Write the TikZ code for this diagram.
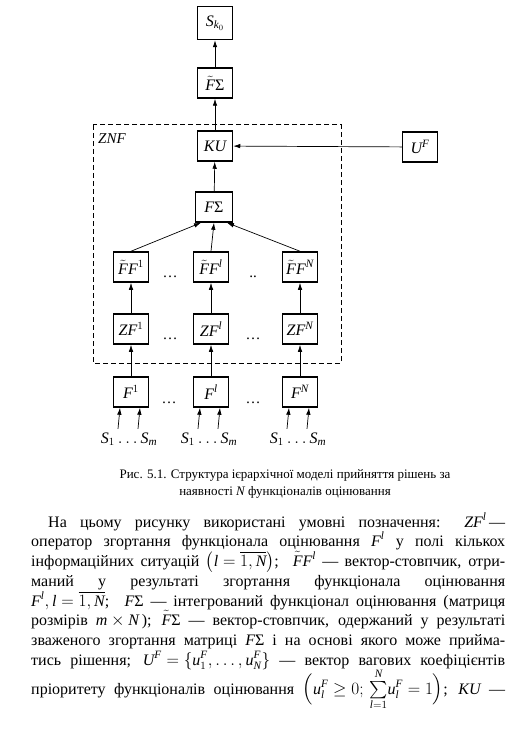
\documentclass[tikz,border=0pt]{standalone}
\usepackage{amsmath}
\usepackage{fontspec}
\setmainfont{Liberation Serif}
\newfontfamily\libser{Liberation Serif}[NFSSFamily=libser]
\DeclareSymbolFont{lettersx}{TU}{libser}{m}{it}
\DeclareSymbolFont{uprx}{TU}{libser}{m}{n}
\DeclareMathSymbol{F}{\mathalpha}{lettersx}{`F}
\DeclareMathSymbol{Z}{\mathalpha}{lettersx}{`Z}
\DeclareMathSymbol{N}{\mathalpha}{lettersx}{`N}
\DeclareMathSymbol{K}{\mathalpha}{lettersx}{`K}
\DeclareMathSymbol{U}{\mathalpha}{lettersx}{`U}
\DeclareMathSymbol{S}{\mathalpha}{lettersx}{`S}
\DeclareMathSymbol{l}{\mathalpha}{lettersx}{`l}
\DeclareMathSymbol{m}{\mathalpha}{lettersx}{`m}
\DeclareMathSymbol{u}{\mathalpha}{lettersx}{`u}
\DeclareMathSymbol{k}{\mathalpha}{lettersx}{`k}
\DeclareMathSymbol{0}{\mathord}{uprx}{`0}
\DeclareMathSymbol{1}{\mathord}{uprx}{`1}
\newcommand{\Sg}{\mathord{\text{\upshape Σ}}}
\thickmuskip=5mu \medmuskip=4mu \thinmuskip=3mu
\usetikzlibrary{arrows.meta}

\begin{document}
\begin{tikzpicture}[x=1pt,y=-1pt,
  blk/.style={draw, line width=1.5pt, minimum width=35pt, minimum height=30pt, inner sep=1pt, font=\fontsize{16}{18}\selectfont},
  arr/.style={-{Latex[length=7pt,width=4.5pt]}, line width=0.7pt},
  dotlbl/.style={anchor=base, inner sep=0pt, font=\fontsize{15}{18}\selectfont},
  txtline/.style={anchor=base west, inner sep=0pt, font=\fontsize{16}{18}\selectfont},
  capline/.style={anchor=base, inner sep=0pt, font=\fontsize{13}{15}\selectfont}]
  \useasboundingbox (0,0) rectangle (516,730);

  % top of the hierarchy
  \node[blk, minimum height=33pt] (sk)  at (215,23)  {$S_{k_0}$};
  \node[blk] (fts) at (215,83)  {$\tilde{F}\Sg$};

  % folding block ZNF
  \draw[line width=1pt, dash pattern=on 5pt off 3pt] (93,125) rectangle (341,363);
  \node[font=\fontsize{15}{17}\selectfont] (znf) at (112,139) {$ZNF$};
  \node[blk] (ku)  at (215,146) {$KU$};
  \node[blk] (uf)  at (420,147) {$U^{F}$};
  \node[blk, minimum width=37pt] (fs)  at (214,207) {$F\Sg$};

  \node[blk] (ff1) at (131,267) {$\tilde{F}F^{1}$};
  \node[blk] (ffl) at (211,267) {$\tilde{F}F^{l}$};
  \node[blk] (ffn) at (300,267) {$\tilde{F}F^{N}$};
  \node[dotlbl] (ffd1) at (170,277) {\ldots};
  \node[dotlbl] (ffd2) at (253,277) {..};

  \node[blk] (zf1) at (131,329) {$ZF^{1}$};
  \node[blk] (zfl) at (211,329) {$ZF^{l}$};
  \node[blk] (zfn) at (300,329) {$ZF^{N}$};
  \node[dotlbl] (zfd1) at (170,339) {\ldots};
  \node[dotlbl] (zfd2) at (253,339) {\ldots};

  % functionals and situations
  \node[blk] (f1) at (131,392) {$F^{1}$};
  \node[blk] (fl) at (211,392) {$F^{l}$};
  \node[blk] (fn) at (300,392) {$F^{N}$};
  \node[dotlbl] (fd1) at (169,403) {\ldots};
  \node[dotlbl] (fd2) at (253,403) {\ldots};

  \node[font=\fontsize{16}{18}\selectfont] (s1) at (129,439) {$S_1\ldots S_m$};
  \node[font=\fontsize{16}{18}\selectfont] (sl) at (209,439) {$S_1\ldots S_m$};
  \node[font=\fontsize{16}{18}\selectfont] (sn) at (298,439) {$S_1\ldots S_m$};

  \foreach \c/\s in {f1/s1, fl/sl, fn/sn}{
    \draw[arr] ([xshift=-11pt]\s.north) -- ([xshift=-11pt]\c.south);
    \draw[arr] ([xshift=9pt]\s.north) -- ([xshift=9pt]\c.south);
  }
  \draw[arr] (f1) -- (zf1);
  \draw[arr] (fl) -- (zfl);
  \draw[arr] (fn) -- (zfn);
  \draw[arr] (zf1) -- (ff1);
  \draw[arr] (zfl) -- (ffl);
  \draw[arr] (zfn) -- (ffn);
  \draw[arr] (ff1.north) -- ([xshift=-13pt]fs.south);
  \draw[arr] (ffl.north) -- (fs.south);
  \draw[arr] (ffn.north) -- ([xshift=13pt]fs.south);
  \draw[arr] (fs) -- (ku);
  \draw[arr] (uf) -- (ku);
  \draw[arr] (ku) -- (fts);
  \draw[arr] (fts) -- (sk);

  % caption
  \node[capline] (cap1) at (285,478) {Рис. 5.1. Структура ієрархічної моделі прийняття рішень за};
  \node[capline] (cap2) at (285,495) {наявності $N$ функціоналів оцінювання};

  % explanation text
  \node[txtline] (t1) at (48,527) {\makebox[457pt][s]{На цьому рисунку використані умовні позначення: $ZF^{l}$\,—}};
  \node[txtline] (t2) at (31,546) {\makebox[474pt][s]{оператор згортання функціонала оцінювання $F^{l}$ у полі кількох}};
  \node[txtline] (t3) at (31,566) {\makebox[474pt][s]{інформаційних ситуацій $\bigl(l=\overline{1,N}\bigr)$; \ $\tilde{F}F^{l}$ — вектор-стовпчик, отри-}};
  \node[txtline] (t4) at (31,586) {\makebox[474pt][s]{маний у результаті згортання функціонала оцінювання}};
  \node[txtline] (t5) at (31,606) {\makebox[474pt][s]{$F^{l},l=\overline{1,N}$; \ $F\Sg$ — інтегрований функціонал оцінювання (матриця}};
  \node[txtline] (t6) at (31,625) {\makebox[474pt][s]{розмірів $m\times N$\,); $\tilde{F}\Sg$ — вектор-стовпчик, одержаний у результаті}};
  \node[txtline] (t7) at (31,645) {\makebox[474pt][s]{зваженого згортання матриці $F\Sg$ і на основі якого може прийма-}};
  \node[txtline] (t8) at (31,665) {\makebox[474pt][s]{тись рішення; $U^{F}=\{u_1^{F},\ldots,u_N^{F}\}$ — вектор вагових коефіцієнтів}};
  \node[txtline] (t9) at (31,694) {\makebox[474pt][s]{пріоритету функціоналів оцінювання $\Bigl(u_l^{F}\ge 0;\,{\textstyle\sum\limits_{l=1}^{N}}u_l^{F}=1\Bigr)$; $KU$ —}};
\end{tikzpicture}
\end{document}
